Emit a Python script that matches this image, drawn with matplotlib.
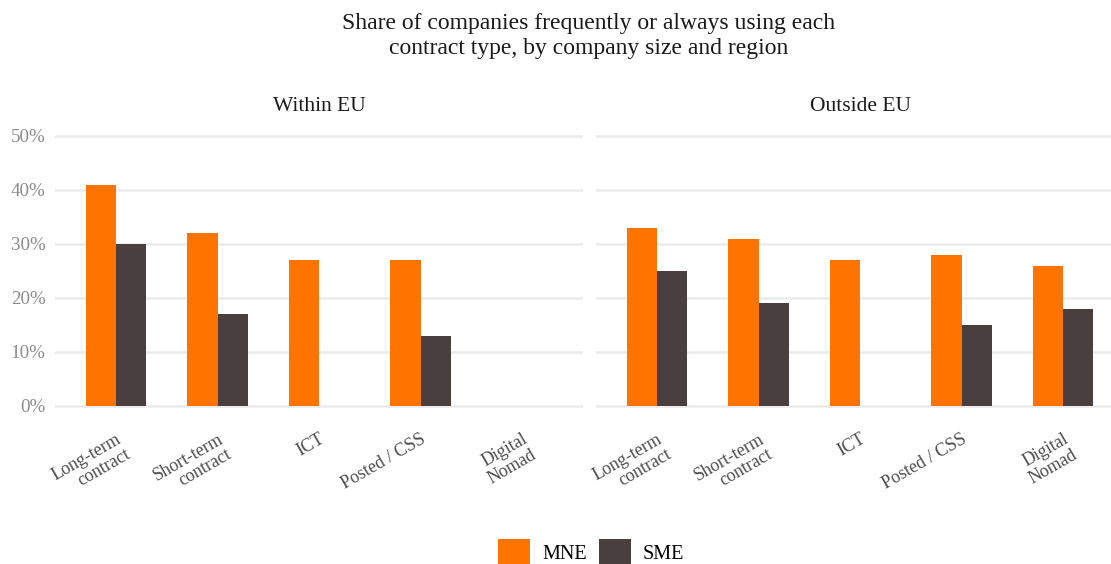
import numpy as np
import matplotlib
matplotlib.use("Agg")
import matplotlib.pyplot as plt
import matplotlib.transforms as mtransforms
from matplotlib.patches import Patch

# data (percent)
categories = ["Long-term\ncontract", "Short-term\ncontract", "ICT", "Posted / CSS", "Digital\nNomad"]
panels = ["Within EU", "Outside EU"]
mne_within = [41, 32, 27, 27, np.nan]
sme_within = [30, 17, np.nan, 13, np.nan]
mne_outside = [33, 31, 27, 28, 26]
sme_outside = [25, 19, np.nan, 15, 18]
yticks = [0, 10, 20, 30, 40, 50]

ORANGE = "#FF7400"
DARK = "#4A3F3F"
GRID = "#EBEBEB"

plt.rcParams["font.family"] = ["Liberation Serif", "DejaVu Serif"]

W, H = 1111, 564
fig = plt.figure(figsize=(W / 100, H / 100), dpi=100)

def px_axes(x0, x1, y_top, y_bot):
    return fig.add_axes([x0 / W, 1 - y_bot / H, (x1 - x0) / W, (y_bot - y_top) / H])

# y: 0% at 406 px, 50% at 136 px, small expansion like ggplot
y0_px, y50_px = 406, 136
per = (y0_px - y50_px) / 50.0
ylo, yhi = -2.5, 52.5
top_px = y0_px - yhi * per
bot_px = y0_px - ylo * per

# x: 101.5 px per category, ggplot expansion 0.6
unit = 101.5
left_ax = px_axes(116 - 0.6 * unit, 116 + 4.6 * unit, top_px, bot_px)
right_ax = px_axes(657 - 0.6 * unit, 657 + 4.6 * unit, top_px, bot_px)

x = np.arange(len(categories))
bw = 0.3
data = [(mne_within, sme_within), (mne_outside, sme_outside)]
shift = mtransforms.ScaledTranslation(5 / 100, 0, fig.dpi_scale_trans)

for ax, name, (mne, sme) in zip([left_ax, right_ax], panels, data):
    ax.bar(x - bw / 2, mne, width=bw, color=ORANGE, zorder=3)
    ax.bar(x + bw / 2, sme, width=bw, color=DARK, zorder=3)
    ax.set_xlim(-0.6, 4.6)
    ax.set_ylim(ylo, yhi)
    ax.set_yticks(yticks)
    ax.grid(axis="y", color=GRID, linewidth=1.8, zorder=0)
    ax.grid(axis="x", visible=False)
    for s in ax.spines.values():
        s.set_visible(False)
    ax.tick_params(length=0)
    ax.set_xticks(x)
    ax.set_xticklabels(categories, rotation=30, rotation_mode="anchor",
                       ha="right", va="top", multialignment="right",
                       fontsize=13, color="#4D4D4D", linespacing=1.05)
    for lab in ax.get_xticklabels():
        lab.set_transform(lab.get_transform() + shift)
    ax.tick_params(axis="x", pad=8)
    ax.set_title(name, fontsize=15.5, color="#1A1A1A", pad=8)
    ax.set_facecolor("none")

left_ax.set_yticklabels([f"{v}%" for v in yticks], fontsize=13.7, color="#8C8C8C")
left_ax.tick_params(axis="y", pad=7)
right_ax.set_yticklabels([])

fig.text(589 / W, 1 - 36 / H,
         "Share of companies frequently or always using each\ncontract type, by company size and region",
         ha="center", va="center", fontsize=17, color="#1A1A1A", linespacing=1.3)

handles = [Patch(facecolor=ORANGE, label="MNE"), Patch(facecolor=DARK, label="SME")]
fig.legend(handles=handles, loc="center", bbox_to_anchor=(591 / W, 1 - 552 / H),
           ncol=2, frameon=False, fontsize=14.5, handlelength=1.6, handleheight=1.6,
           handletextpad=0.6, columnspacing=0.6, borderaxespad=0, borderpad=0)

fig.savefig("out.png", dpi=100)
